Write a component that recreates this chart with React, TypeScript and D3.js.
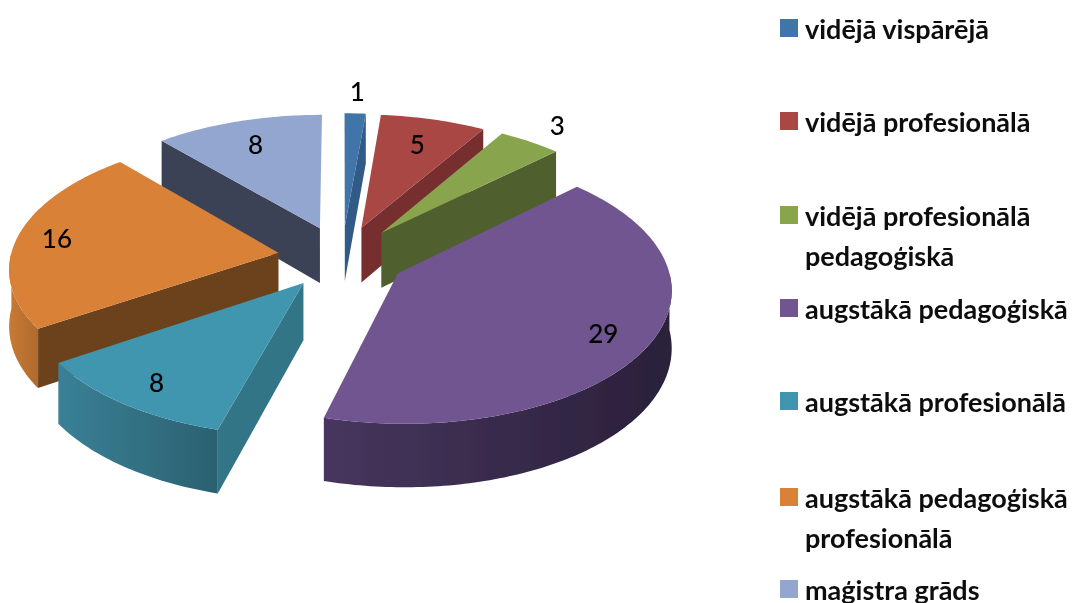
import React from "react";
import * as d3 from "d3";

const categories = [
  "vidējā vispārējā",
  "vidējā profesionālā",
  "vidējā profesionālā pedagoģiskā",
  "augstākā pedagoģiskā",
  "augstākā profesionālā",
  "augstākā pedagoģiskā profesionālā",
  "maģistra grāds",
];
const values = [1, 5, 3, 29, 8, 16, 8];
const legendLines = [
  ["vidējā vispārējā"],
  ["vidējā profesionālā"],
  ["vidējā profesionālā", "pedagoģiskā"],
  ["augstākā pedagoģiskā"],
  ["augstākā profesionālā"],
  ["augstākā pedagoģiskā", "profesionālā"],
  ["maģistra grāds"],
];
const topColors = ["#4174a9", "#a94644", "#88a54e", "#705590", "#4096ae", "#da8138", "#92a6cf"];
const edgeColors = ["#335a87", "#762f2e", "#505f2d", "#4c3a60", "#327487", "#6c421d", "#3a4356"];
const wallLeft = ["#335a87", "#762f2e", "#505f2d", "#47365e", "#3a8097", "#c77a35", "#3a4356"];
const wallRight = ["#335a87", "#762f2e", "#505f2d", "#2a203a", "#2b6170", "#b06a2d", "#3a4356"];
const drawOrder = [6, 0, 1, 2, 5, 4, 3];
const labelRadius = [1.22, 0.76, 1.2, 0.83, 0.83, 0.85, 0.77];
const legendY = [28, 121, 215, 308, 401, 497, 589];

const W = 1091, H = 603;
const CX = 342, CY = 257, RX = 268, RY = 131, PERSP = 0.105, EXPLODE = 0.24, DEPTH = 56;
const FONT = "Lato, Carlito, sans-serif";

type P = [number, number];
const project = (u: number, v: number, z = 0): P => {
  const w = 1 + PERSP * v;
  return [CX + (RX * u) / w, CY - (RY * v) / w + (z * DEPTH) / w];
};

const pieGen = d3.pie<number>().sort(null).startAngle(0).endAngle(2 * Math.PI);
const arcs = pieGen(values);
const line = d3.line<P>().curve(d3.curveLinear);

function ground(i: number, r: number, th: number): [number, number] {
  const a = arcs[i];
  const b = (a.startAngle + a.endAngle) / 2;
  return [EXPLODE * Math.sin(b) + r * Math.sin(th), EXPLODE * Math.cos(b) + r * Math.cos(th)];
}
function pt(i: number, r: number, th: number, z = 0): P {
  const [u, v] = ground(i, r, th);
  return project(u, v, z);
}
function rimAngles(a0: number, a1: number): number[] {
  const n = Math.max(2, Math.ceil(((a1 - a0) * 180) / Math.PI));
  return d3.range(n + 1).map((k) => a0 + ((a1 - a0) * k) / n);
}
function close(points: P[]): string {
  return (line(points) ?? "") + "Z";
}

function Slice({ i }: { i: number }) {
  const a = arcs[i];
  const s = a.startAngle, e = a.endAngle;
  const rim = rimAngles(s, e);
  const walls: React.ReactNode[] = [];
  const quad = (th: number) =>
    close([pt(i, 0, 0), pt(i, 1, th), pt(i, 1, th, 1), pt(i, 0, 0, 1)]);
  if (Math.sin(s) < -1e-6) walls.push(<path key="s" d={quad(s)} fill={edgeColors[i]} />);
  if (Math.sin(e) > 1e-6) walls.push(<path key="e" d={quad(e)} fill={edgeColors[i]} />);
  const f0 = Math.max(s, Math.PI / 2), f1 = Math.min(e, (3 * Math.PI) / 2);
  if (f1 > f0) {
    const front = rimAngles(f0, f1);
    const upper = front.map((t) => pt(i, 1, t));
    const lower = front.map((t) => pt(i, 1, t, 1)).reverse();
    walls.push(<path key="o" d={close([...upper, ...lower])} fill={`url(#wall${i})`} />);
  }
  const top = close([pt(i, 0, 0), ...rim.map((t) => pt(i, 1, t))]);
  return (
    <g>
      {walls}
      <path d={top} fill={topColors[i]} />
    </g>
  );
}

export default function App() {
  const wallExtents = arcs.map((a, i) => {
    const f0 = Math.max(a.startAngle, Math.PI / 2), f1 = Math.min(a.endAngle, (3 * Math.PI) / 2);
    const xs = f1 > f0 ? rimAngles(f0, f1).map((t) => pt(i, 1, t)[0]) : [0, 1];
    return d3.extent(xs) as [number, number];
  });
  return (
    <svg
      width={W}
      height={H}
      viewBox={`0 0 ${W} ${H}`}
      style={{ position: "absolute", left: 0, top: 0, display: "block", background: "#fff" }}
    >
      <defs>
        <filter id="soft" x="0" y="0" width="100%" height="100%">
          <feGaussianBlur stdDeviation="0.6" />
        </filter>
        {arcs.map((_, i) => (
          <linearGradient
            key={i}
            id={`wall${i}`}
            gradientUnits="userSpaceOnUse"
            x1={wallExtents[i][0]}
            x2={wallExtents[i][1]}
            y1={0}
            y2={0}
          >
            <stop offset="0" stopColor={wallLeft[i]} />
            <stop offset="1" stopColor={wallRight[i]} />
          </linearGradient>
        ))}
      </defs>
      <g filter="url(#soft)">
        {drawOrder.map((i) => (
          <Slice key={categories[i]} i={i} />
        ))}
        {arcs.map((a, i) => {
          const b = (a.startAngle + a.endAngle) / 2;
          const [x, y] = pt(i, labelRadius[i], b);
          return (
            <text
              key={i}
              x={x}
              y={y}
              textAnchor="middle"
              dominantBaseline="central"
              fontFamily={FONT}
              fontWeight={500}
              fontSize={26}
              fill="#000"
            >
              {values[i]}
            </text>
          );
        })}
        {categories.map((c, i) => (
          <g key={c} transform={`translate(780,${legendY[i]})`}>
            <rect x={0} y={-9} width={18} height={18} fill={topColors[i]} />
            {legendLines[i].map((l, k) => (
              <text
                key={l}
                x={25}
                y={k * 40}
                dominantBaseline="central"
                fontFamily={FONT}
                fontWeight={700}
                fontSize={27}
                fill="#111"
              >
                {l}
              </text>
            ))}
          </g>
        ))}
      </g>
    </svg>
  );
}
